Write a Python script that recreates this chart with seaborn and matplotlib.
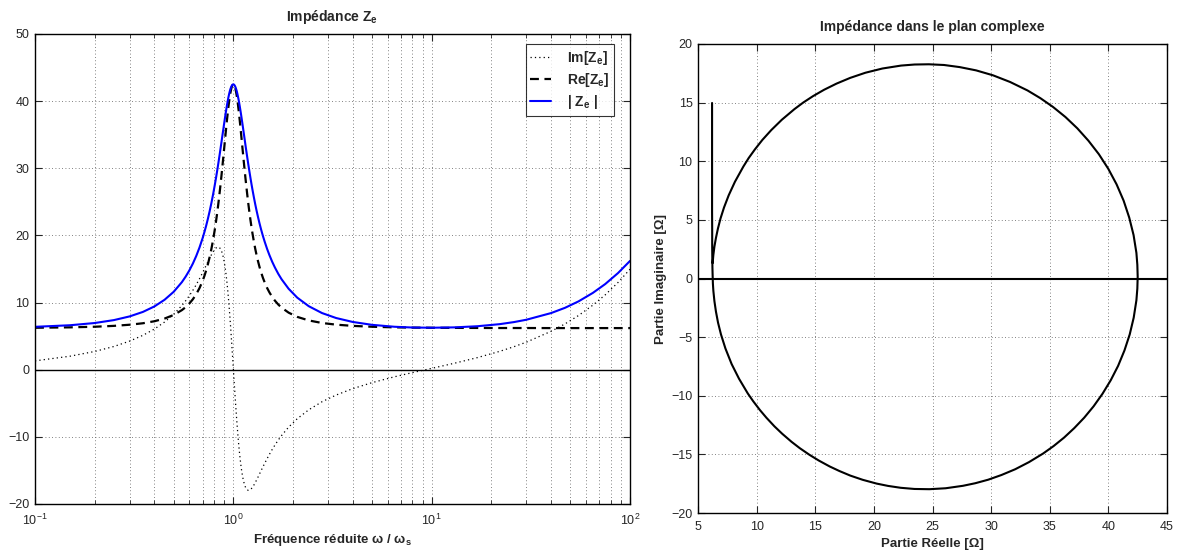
import numpy as np
import matplotlib
matplotlib.use("Agg")
import matplotlib.pyplot as plt
import seaborn as sns

# reduced frequency w / w_s and impedance
freq = [0.1, 0.15, 0.2, 0.25, 0.3, 0.35, 0.4, 0.45, 0.5, 0.55,
        0.575, 0.6, 0.625, 0.65, 0.675, 0.7, 0.715, 0.73, 0.745, 0.76,
        0.775, 0.79, 0.805, 0.82, 0.83, 0.84, 0.85, 0.86, 0.87, 0.88,
        0.89, 0.9, 0.9075, 0.915, 0.9225, 0.93, 0.9375, 0.945, 0.9525, 0.96,
        0.9675, 0.975, 0.9825, 0.99, 0.995, 1.0, 1.005, 1.01, 1.0175, 1.025,
        1.0325, 1.04, 1.0475, 1.055, 1.0625, 1.07, 1.0775, 1.085, 1.0925, 1.1,
        1.11, 1.12, 1.13, 1.14, 1.15, 1.16, 1.175, 1.19, 1.205, 1.22,
        1.235, 1.25, 1.27, 1.29, 1.31, 1.33, 1.355, 1.38, 1.41, 1.44,
        1.48, 1.52, 1.57, 1.62, 1.685, 1.75, 1.9, 2.1, 2.4, 2.8,
        3.3, 4, 5, 6.5, 8, 10, 13, 17, 22, 26,
        30, 40, 47, 55, 65, 75, 87, 100]
re_z = [6.25, 6.31, 6.40, 6.53, 6.70, 6.92, 7.22, 7.62, 8.15, 8.87,
        9.32, 9.86, 10.49, 11.25, 12.15, 13.23, 13.98, 14.82, 15.76, 16.81,
        17.98, 19.28, 20.73, 22.32, 23.47, 24.69, 25.98, 27.32, 28.72, 30.16,
        31.62, 33.10, 34.20, 35.28, 36.34, 37.35, 38.30, 39.19, 39.99, 40.70,
        41.30, 41.78, 42.15, 42.39, 42.47, 42.50, 42.47, 42.39, 42.16, 41.82,
        41.37, 40.83, 40.20, 39.50, 38.74, 37.94, 37.09, 36.22, 35.33, 34.43,
        33.23, 32.05, 30.88, 29.75, 28.65, 27.60, 26.12, 24.73, 23.46, 22.29,
        21.21, 20.23, 19.05, 17.99, 17.06, 16.23, 15.31, 14.51, 13.68, 12.98,
        12.18, 11.52, 10.84, 10.29, 9.71, 9.25, 8.50, 7.87, 7.34, 6.96,
        6.71, 6.53, 6.40, 6.31, 6.27, 6.25, 6.23, 6.22, 6.21, 6.21,
        6.21, 6.20, 6.20, 6.20, 6.20, 6.20, 6.20, 6.20]
im_z = [1.32, 2.01, 2.72, 3.46, 4.26, 5.12, 6.06, 7.10, 8.25, 9.55,
        10.27, 11.02, 11.82, 12.66, 13.54, 14.45, 15.01, 15.56, 16.10, 16.62,
        17.11, 17.55, 17.91, 18.16, 18.25, 18.27, 18.21, 18.03, 17.75, 17.33,
        16.76, 16.04, 15.38, 14.63, 13.77, 12.81, 11.75, 10.60, 9.36, 8.03,
        6.64, 5.19, 3.70, 2.19, 1.17, 0.15, -0.86, -1.86, -3.34, -4.77,
        -6.14, -7.45, -8.68, -9.83, -10.90, -11.87, -12.76, -13.57, -14.29, -14.93,
        -15.66, -16.27, -16.76, -17.16, -17.46, -17.68, -17.89, -17.97, -17.95, -17.85,
        -17.69, -17.49, -17.17, -16.81, -16.42, -16.03, -15.53, -15.04, -14.47, -13.93,
        -13.24, -12.61, -11.88, -11.23, -10.47, -9.81, -8.55, -7.30, -5.97, -4.77,
        -3.77, -2.82, -1.93, -1.05, -0.43, 0.20, 0.96, 1.80, 2.73, 3.43,
        4.10, 5.72, 6.82, 8.07, 9.62, 11.15, 12.99, 14.97]
mag_z = np.hypot(re_z, im_z)

sns.set_style("ticks")
plt.rcParams.update({
    "font.family": ["Liberation Sans", "DejaVu Sans"],
    "mathtext.fontset": "custom",
    "mathtext.rm": "Liberation Sans",
    "mathtext.bf": "Liberation Sans:bold",
    "mathtext.it": "Liberation Sans:italic",
    "xtick.direction": "in",
    "ytick.direction": "in",
    "xtick.top": True,
    "ytick.right": True,
    "xtick.labelsize": 9,
    "ytick.labelsize": 9,
    "axes.linewidth": 1.0,
    "axes.edgecolor": "black",
})

W, H = 1182, 553
fig = plt.figure(figsize=(W / 100, H / 100), dpi=100)
ax1 = fig.add_axes([35 / W, (H - 504) / H, 595 / W, 470 / H])
ax2 = fig.add_axes([698 / W, (H - 513) / H, 469 / W, 469 / H])

grid_kw = dict(color="0.35", linewidth=0.6, linestyle=(0, (1, 3)))

# --- left: impedance vs frequency
sns.lineplot(x=freq, y=im_z, ax=ax1, color="black", linewidth=0.9,
             linestyle=(0, (1, 2.5)), estimator=None, sort=False, label="Im[Z$_\\mathbf{e}$]")
sns.lineplot(x=freq, y=re_z, ax=ax1, color="black", linewidth=1.6,
             linestyle=(0, (4, 2.5)), estimator=None, sort=False, label="Re[Z$_\\mathbf{e}$]")
sns.lineplot(x=freq, y=mag_z, ax=ax1, color="blue", linewidth=1.5,
             estimator=None, sort=False, label="| Z$_\\mathbf{e}$ |")
ax1.axhline(0, color="black", linewidth=1.0, zorder=1)
ax1.set_xscale("log")
ax1.set_xlim(0.1, 100)
ax1.set_ylim(-20, 50)
ax1.set_yticks(range(-20, 51, 10))
ax1.grid(True, which="both", axis="x", **grid_kw)
ax1.grid(True, which="major", axis="y", **grid_kw)
ax1.tick_params(which="major", length=5)
ax1.tick_params(which="minor", length=3)
ax1.tick_params(axis="x", pad=6)
ax1.tick_params(axis="y", pad=4)
ax1.set_title("Impédance Z$_\\mathbf{e}$", fontsize=10, fontweight="bold", pad=9)
ax1.set_xlabel("Fréquence réduite ω / ω$_\\mathbf{s}$", fontsize=9.5, fontweight="bold", labelpad=3)
ax1.set_ylabel("")
leg = ax1.legend(loc="upper right", bbox_to_anchor=(0.973, 0.979), borderaxespad=0,
                 fancybox=False, frameon=True, handlelength=1.5, handletextpad=1.1,
                 prop={"weight": "bold", "size": 10}, labelspacing=0.3, borderpad=0.35)
leg.get_frame().set_edgecolor("black")
leg.get_frame().set_linewidth(0.8)

# --- right: complex plane
sns.lineplot(x=re_z, y=im_z, ax=ax2, color="black", linewidth=1.5,
             estimator=None, sort=False)
ax2.axhline(0, color="black", linewidth=1.5, zorder=1)
ax2.set_xlim(5, 45)
ax2.set_ylim(-20, 20)
ax2.set_xticks(range(5, 46, 5))
ax2.set_yticks(range(-20, 21, 5))
ax2.grid(True, **grid_kw)
ax2.tick_params(length=5)
ax2.tick_params(axis="x", pad=6)
ax2.tick_params(axis="y", pad=4)
ax2.set_title("Impédance dans le plan complexe", fontsize=10, fontweight="bold", pad=9)
ax2.set_xlabel("Partie Réelle [Ω]", fontsize=9.5, fontweight="bold", labelpad=3)
ax2.set_ylabel("Partie Imaginaire [Ω]", fontsize=9.5, fontweight="bold", labelpad=3)

fig.savefig("out.png", dpi=100)
